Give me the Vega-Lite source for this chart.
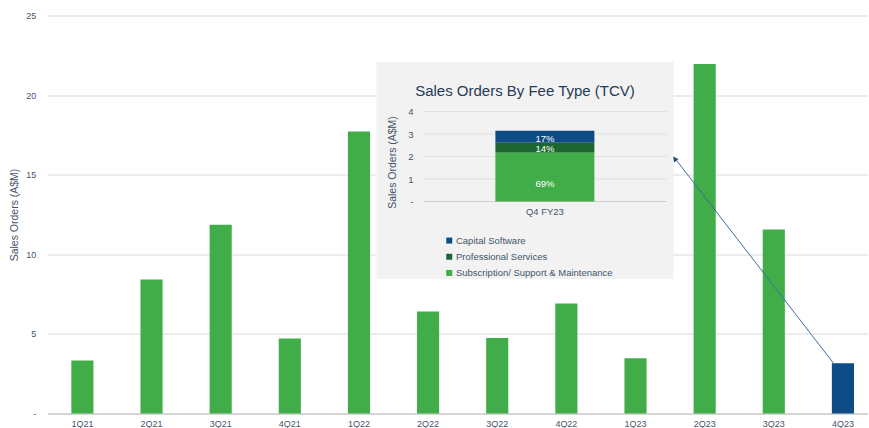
{
  "$schema": "https://vega.github.io/schema/vega-lite/v6.json",
  "background": "white",
  "padding": {"left": 8.7, "top": 11.5, "right": 0, "bottom": 0},
  "width": 820,
  "height": 398,
  "layer": [
    {
      "data": {
        "values": [
          {"quarter": "1Q21", "orders": 3.33},
          {"quarter": "2Q21", "orders": 8.41},
          {"quarter": "3Q21", "orders": 11.86},
          {"quarter": "4Q21", "orders": 4.71},
          {"quarter": "1Q22", "orders": 17.72},
          {"quarter": "2Q22", "orders": 6.4},
          {"quarter": "3Q22", "orders": 4.75},
          {"quarter": "4Q22", "orders": 6.91},
          {"quarter": "1Q23", "orders": 3.47},
          {"quarter": "2Q23", "orders": 21.95},
          {"quarter": "3Q23", "orders": 11.55},
          {"quarter": "4Q23", "orders": 3.15}
        ]
      },
      "layer": [
        {
          "mark": {"type": "bar"},
          "encoding": {
            "x": {
              "field": "quarter",
              "type": "ordinal",
              "scale": {
                "domain": ["1Q21", "2Q21", "3Q21", "4Q21", "1Q22", "2Q22", "3Q22", "4Q22", "1Q23", "2Q23", "3Q23", "4Q23"],
                "paddingInner": 0.68,
                "paddingOuter": 0.27,
                "align": 0.633
              },
              "axis": {
                "orient": "bottom",
                "title": null,
                "domain": true,
                "domainColor": "#BFBFBF",
                "ticks": false,
                "grid": false,
                "labelAngle": 0,
                "labelPadding": 6,
                "labelFontSize": 9,
                "labelColor": "#44546A"
              }
            },
            "y": {
              "field": "orders",
              "type": "quantitative",
              "scale": {"domain": [0, 25], "nice": false},
              "axis": {
                "orient": "left",
                "title": "Sales Orders (A$M)",
                "values": [0, 5, 10, 15, 20, 25],
                "labelExpr": "datum.value === 0 ? '-' : datum.label",
                "domain": false,
                "ticks": false,
                "grid": true,
                "gridColor": "#D9D9D9",
                "labelPadding": 12,
                "labelFontSize": 9,
                "labelColor": "#44546A",
                "titlePadding": 6,
                "titleFontSize": 10.5,
                "titleFontWeight": "normal",
                "titleColor": "#44546A"
              }
            },
            "color": {
              "condition": {"test": "datum.quarter === '4Q23'", "value": "#0E4C85"},
              "value": "#41AD49"
            }
          }
        },
        {
          "transform": [{"filter": "datum.quarter === '4Q23'"}],
          "layer": [
            {
              "mark": {"type": "rule", "color": "#3B6CA3", "strokeWidth": 1},
              "encoding": {
                "x": {"field": "quarter", "type": "ordinal", "bandPosition": 0.08},
                "y": {"field": "orders", "type": "quantitative"},
                "x2": {"datum": "2Q23", "bandPosition": -0.9},
                "y2": {"datum": 16.13}
              }
            },
            {
              "mark": {"type": "point", "shape": "triangle-up", "angle": 322, "size": 32, "filled": true, "color": "#1F4E79", "opacity": 1},
              "encoding": {
                "x": {"datum": "2Q23", "bandPosition": -0.85},
                "y": {"datum": 16.0}
              }
            }
          ]
        }
      ]
    },
    {
      "resolve": {"scale": {"x": "independent"}, "axis": {"x": "independent"}},
      "layer": [
        {
          "data": {"values": [{"value": 0}, {"value": 1}, {"value": 2}, {"value": 3}, {"value": 4}]},
          "mark": {"type": "tick", "size": 243, "thickness": 1},
          "encoding": {
            "x": {
              "datum": "Q4 FY23",
              "type": "nominal",
              "scale": {"domain": ["Q4 FY23"], "range": [328.3, 625.3], "paddingInner": 0, "paddingOuter": 1.0153, "align": 0.603},
              "axis": {
                "orient": "bottom",
                "offset": -243.5,
                "title": null,
                "labels": false,
                "ticks": false,
                "grid": false,
                "domain": true,
                "domainColor": "#F2F2F2",
                "domainWidth": 217
              }
            },
            "y": {
              "field": "value",
              "type": "quantitative",
              "scale": {"domain": [-3.4222, 6.2222], "range": [263, 46], "nice": false, "zero": false},
              "axis": {
                "orient": "left",
                "offset": -376.3,
                "zindex": 1,
                "title": "Sales Orders (A$M)",
                "values": [0, 1, 2, 3, 4],
                "labelExpr": "datum.value === 0 ? '-' : datum.label",
                "domain": false,
                "ticks": false,
                "grid": false,
                "labelPadding": 11,
                "labelFontSize": 9.5,
                "labelColor": "#44546A",
                "titleX": -28.2,
                "titleY": 146.5,
                "titleBaseline": "alphabetic",
                "titleFontSize": 10.5,
                "titleFontWeight": "normal",
                "titleColor": "#44546A"
              }
            },
            "color": {
              "condition": {"test": "datum.value === 0", "value": "#BFBFBF"},
              "value": "#D9D9D9"
            }
          }
        },
        {
          "data": {
            "values": [
              {"period": "Q4 FY23", "fee": "Capital Software", "value": 0.54, "share": 0.17},
              {"period": "Q4 FY23", "fee": "Professional Services", "value": 0.44, "share": 0.14},
              {"period": "Q4 FY23", "fee": "Subscription/ Support & Maintenance", "value": 2.17, "share": 0.69}
            ]
          },
          "layer": [
            {
              "mark": {"type": "bar"},
              "encoding": {
                "x": {
                  "field": "period",
                  "type": "nominal",
                  "scale": {"domain": ["Q4 FY23"], "range": [328.3, 625.3], "paddingInner": 0, "paddingOuter": 1.0153, "align": 0.603},
                  "axis": {
                    "orient": "bottom",
                    "offset": -212,
                    "zindex": 1,
                    "title": "Sales Orders By Fee Type (TCV)",
                    "titleFontSize": 15,
                    "titleFontWeight": "normal",
                    "titleColor": "#263A56",
                    "titleBaseline": "alphabetic",
                    "titleY": -106,
                    "domain": false,
                    "ticks": false,
                    "grid": false,
                    "labelAngle": 0,
                    "labelPadding": 5,
                    "labelFontSize": 9.5,
                    "labelColor": "#44546A"
                  }
                },
                "y": {
                  "field": "value",
                  "type": "quantitative",
                  "stack": "zero",
                  "scale": {"domain": [-3.4222, 6.2222], "range": [263, 46], "nice": false, "zero": false},
                  "axis": {
                    "orient": "left",
                    "offset": -376.3,
                    "zindex": 1,
                    "title": "Sales Orders (A$M)",
                    "values": [0, 1, 2, 3, 4],
                    "labelExpr": "datum.value === 0 ? '-' : datum.label",
                    "domain": false,
                    "ticks": false,
                    "grid": false,
                    "labelPadding": 11,
                    "labelFontSize": 9.5,
                    "labelColor": "#44546A",
                    "titleX": -28.2,
                    "titleY": 146.5,
                    "titleBaseline": "alphabetic",
                    "titleFontSize": 10.5,
                    "titleFontWeight": "normal",
                    "titleColor": "#44546A"
                  }
                },
                "color": {
                  "field": "fee",
                  "type": "nominal",
                  "scale": {
                    "domain": ["Capital Software", "Professional Services", "Subscription/ Support & Maintenance"],
                    "range": ["#0E4C85", "#1D6631", "#41AD49"]
                  },
                  "legend": {
                    "title": null,
                    "orient": "none",
                    "direction": "vertical",
                    "legendX": 396.8,
                    "legendY": 220.3,
                    "padding": 0,
                    "symbolType": "square",
                    "symbolSize": 36,
                    "symbolStrokeWidth": 0,
                    "labelFontSize": 9.5,
                    "labelColor": "#44546A",
                    "labelOffset": 2,
                    "labelLimit": 300,
                    "rowPadding": 5.2
                  }
                },
                "order": {"field": "fee", "sort": "descending"}
              }
            },
            {
              "mark": {"type": "text", "color": "white", "fontSize": 9.5},
              "encoding": {
                "x": {"field": "period", "type": "nominal"},
                "y": {"field": "value", "type": "quantitative", "stack": "zero", "bandPosition": 0.35},
                "detail": {"field": "fee"},
                "order": {"field": "fee", "sort": "descending"},
                "text": {"field": "share", "type": "quantitative", "format": ".0%"}
              }
            }
          ]
        }
      ]
    }
  ],
  "resolve": {
    "scale": {"x": "independent", "y": "independent"},
    "axis": {"x": "independent", "y": "independent"}
  },
  "config": {
    "font": "Liberation Sans",
    "view": {"stroke": null},
    "axis": {"labelFont": "Liberation Sans", "titleFont": "Liberation Sans"},
    "legend": {"labelFont": "Liberation Sans"},
    "title": {"font": "Liberation Sans"}
  }
}
